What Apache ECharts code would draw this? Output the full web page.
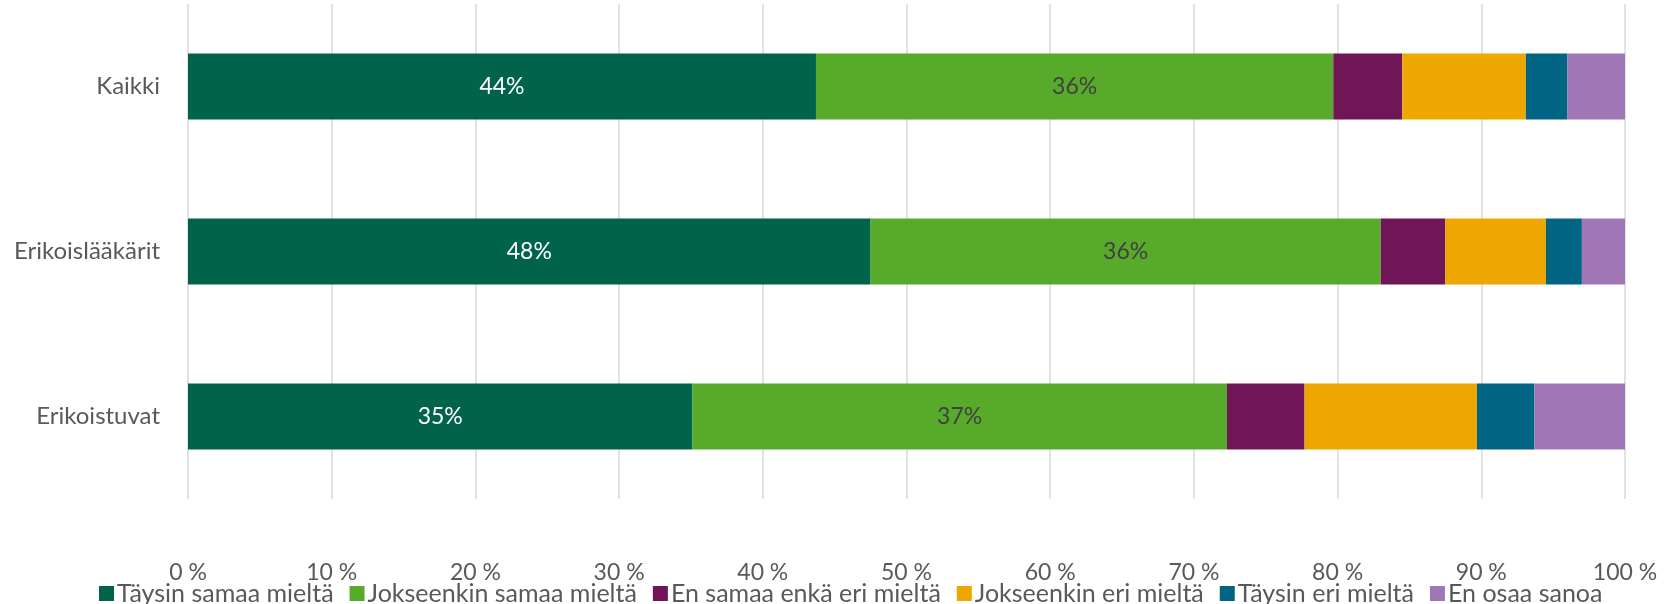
<!DOCTYPE html>
<html>
<head>
<meta charset="utf-8">
<script src="https://cdn.jsdelivr.net/npm/echarts@6/dist/echarts.min.js"></script>
<style>
html,body{margin:0;padding:0;background:#fff;}
#chart{width:1674px;height:604px;}
</style>
</head>
<body>
<div id="chart"></div>
<script>
const categories = ['Kaikki', 'Erikoislääkärit', 'Erikoistuvat'];
const seriesNames = ['Täysin samaa mieltä', 'Jokseenkin samaa mieltä', 'En samaa enkä eri mieltä', 'Jokseenkin eri mieltä', 'Täysin eri mieltä', 'En osaa sanoa'];
const taysinSamaa = [43.7, 47.5, 35.1];
const jokseenkinSamaa = [36.0, 35.5, 37.2];
const enSamaaEnkaEri = [4.8, 4.5, 5.4];
const jokseenkinEri = [8.6, 7.0, 12.0];
const taysinEri = [2.9, 2.5, 4.0];
const enOsaa = [4.0, 3.0, 6.3];
const tickLabels = ['0 %', '10 %', '20 %', '30 %', '40 %', '50 %', '60 %', '70 %', '80 %', '90 %', '100 %'];

const colors = ['#00634A', '#58AB2A', '#701656', '#EEA700', '#006482', '#9E77B4'];
const values = [taysinSamaa, jokseenkinSamaa, enSamaaEnkaEri, jokseenkinEri, taysinEri, enOsaa];
const labelColors = ['#ffffff', '#404040', null, null, null, null];
const FONT = 'Lato';

const series = seriesNames.map((name, i) => ({
  name: name,
  type: 'bar',
  stack: 'total',
  barWidth: 66,
  data: values[i],
  itemStyle: { color: colors[i] },
  label: labelColors[i] ? {
    show: true,
    position: 'inside',
    color: labelColors[i],
    fontFamily: FONT,
    fontSize: 23,
    formatter: p => Math.round(p.value) + '%'
  } : { show: false },
  emphasis: { disabled: true }
}));

const chart = echarts.init(document.getElementById('chart'));
chart.setOption({
  animation: false,
  color: colors,
  grid: { left: 188, right: 49, top: 4, bottom: 105, containLabel: false },
  xAxis: {
    type: 'value',
    min: 0, max: 100, interval: 10,
    axisLine: { show: false },
    axisTick: { show: false },
    splitLine: { lineStyle: { color: '#d9d9d9', width: 1.5 } },
    axisLabel: {
      color: '#595959', fontFamily: FONT, fontSize: 23, margin: 62,
      formatter: v => tickLabels[Math.round(v / 10)]
    }
  },
  yAxis: {
    type: 'category',
    data: categories,
    inverse: true,
    axisLine: { show: false },
    axisTick: { show: false },
    axisLabel: { color: '#595959', fontFamily: FONT, fontSize: 24, margin: 28 }
  },
  legend: {
    top: 576,
    left: 94,
    itemWidth: 15,
    itemHeight: 15,
    itemGap: 16,
    icon: 'rect',
    textStyle: { color: '#595959', fontFamily: FONT, fontSize: 25, padding: [0, 0, 0, -2] },
    data: seriesNames
  },
  series: series
});
</script>
</body>
</html>
